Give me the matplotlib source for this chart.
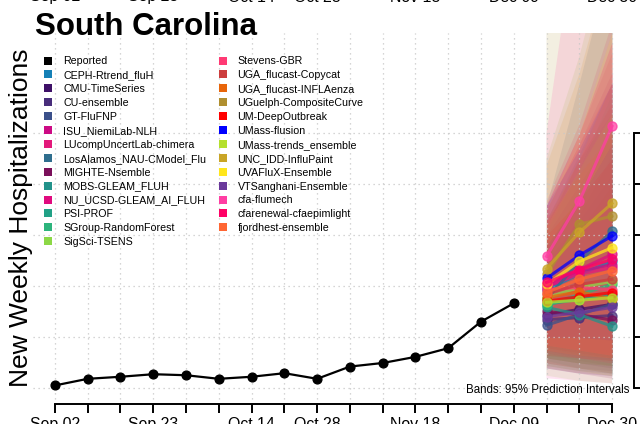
import matplotlib
matplotlib.use("Agg")
import matplotlib.pyplot as plt
import matplotlib.transforms as mtransforms
from matplotlib.patches import Rectangle

plt.rcParams['font.family'] = ['Liberation Sans', 'DejaVu Sans']

# reported weekly hospitalizations, Sep 02 .. Dec 09
weeks = ["Sep 02", "Sep 09", "Sep 16", "Sep 23", "Sep 30", "Oct 07", "Oct 14",
         "Oct 21", "Oct 28", "Nov 04", "Nov 11", "Nov 18", "Nov 25", "Dec 02",
         "Dec 09", "Dec 16", "Dec 23", "Dec 30"]
shown_labels = ["Sep 02", "Sep 23", "Oct 14", "Oct 28", "Nov 18", "Dec 09", "Dec 30"]
reported = [6, 19, 23, 28, 26, 19, 23, 30, 19, 43, 50, 62, 79, 131, 167]
y_ticks = [0, 100, 200, 300, 400, 500]

models = ["CEPH-Rtrend_fluH", "CMU-TimeSeries", "CU-ensemble", "GT-FluFNP",
          "ISU_NiemiLab-NLH", "LUcompUncertLab-chimera", "LosAlamos_NAU-CModel_Flu",
          "MIGHTE-Nsemble", "MOBS-GLEAM_FLUH", "NU_UCSD-GLEAM_AI_FLUH", "PSI-PROF",
          "SGroup-RandomForest", "SigSci-TSENS", "Stevens-GBR", "UGA_flucast-Copycat",
          "UGA_flucast-INFLAenza", "UGuelph-CompositeCurve", "UM-DeepOutbreak",
          "UMass-flusion", "UMass-trends_ensemble", "UNC_IDD-InfluPaint",
          "UVAFluX-Ensemble", "VTSanghani-Ensemble", "cfa-flumech",
          "cfarenewal-cfaepimlight", "fjordhest-ensemble"]
colors = ["#1580b6", "#3e1067", "#482d7b", "#3b508a", "#cc0a84", "#e3197b",
          "#2f6e8e", "#7a0f5a", "#22928a", "#e00a7e", "#21a186", "#2db47c",
          "#8cd846", "#ff3a74", "#cc3d3d", "#e8650a", "#b08f2f", "#ff0000",
          "#0000ff", "#b4e02d", "#c9a526", "#ffe61c", "#6a399b", "#ff3ea3",
          "#ff0066", "#ff6633"]

# forecast weeks: Dec 16, Dec 23, Dec 30
median_dec16 = [194, 145, 135, 124, 198, 200, 175, 151, 159, 204, 165, 163, 178,
                194, 186, 178, 224, 171, 216, 169, 235, 204, 141, 259, 208, 188]
median_dec23 = [224, 155, 139, 145, 229, 224, 249, 145, 145, 233, 175, 184, 198,
                198, 204, 190, 322, 180, 261, 173, 306, 249, 149, 367, 233, 214]
median_dec30 = [249, 165, 143, 165, 243, 237, 308, 134, 122, 263, 184, 204, 210,
                194, 214, 175, 338, 188, 299, 178, 363, 276, 159, 514, 253, 231]

lower_dec16 = [80, 60, 50, 45, 90, 70, 60, 40, 55, 75, 65, 60, 25,
               70, 80, 50, 40, 65, 100, 45, 60, 85, 40, 20, 85, 75]
lower_dec23 = [65, 50, 40, 35, 80, 55, 50, 30, 40, 60, 55, 50, 15,
               60, 70, 40, 30, 60, 100, 35, 50, 75, 30, 15, 75, 65]
lower_dec30 = [55, 40, 35, 30, 70, 45, 45, 20, 30, 50, 45, 45, 10,
               50, 60, 30, 25, 55, 95, 25, 45, 65, 25, 10, 65, 60]

upper_dec16 = [330, 250, 240, 230, 350, 360, 360, 300, 330, 370, 280, 310, 450,
               350, 320, 330, 800, 300, 360, 320, 440, 350, 280, 500, 360, 330]
upper_dec23 = [460, 330, 310, 340, 480, 500, 600, 400, 450, 520, 380, 430, 650,
               480, 450, 420, 900, 370, 470, 430, 620, 500, 370, 950, 500, 450]
upper_dec30 = [600, 420, 400, 460, 620, 660, 850, 500, 540, 720, 500, 580, 900,
               600, 560, 500, 1000, 450, 600, 540, 850, 700, 480, 1300, 680, 600]

W, H = 640, 424
fig = plt.figure(figsize=(W / 100, H / 100), dpi=100)
ax = fig.add_axes([33 / W, 20 / H, 601 / W, 371 / H])

x_rep = list(range(len(reported)))
x_fc = [len(reported), len(reported) + 1, len(reported) + 2]

# prediction bands
for i, c in enumerate(colors):
    lo = [lower_dec16[i], lower_dec23[i], lower_dec30[i]]
    hi = [upper_dec16[i], upper_dec23[i], upper_dec30[i]]
    ax.fill_between(x_fc, lo, hi, color=c, alpha=0.14, lw=0, zorder=1)

# grid
for k in range(len(weeks)):
    ax.axvline(k, color="#c8c8c8", lw=0.9, ls=(0, (1, 3)), zorder=2)
for v in y_ticks:
    ax.axhline(v, color="#c8c8c8", lw=0.9, ls=(0, (1, 3)), zorder=2)

# median forecasts
for i, c in enumerate(colors):
    med = [median_dec16[i], median_dec23[i], median_dec30[i]]
    ax.plot(x_fc, med, color=c, lw=2.2, alpha=0.75, marker="o", ms=6.5,
            mec=c, zorder=3)

ax.plot(x_rep, reported, color="black", lw=1.6, marker="o", ms=6.3, zorder=4)

ax.set_xlim(-0.67, 17.67)
ax.set_ylim(-30.4, 697)

for s in ["top", "left"]:
    ax.spines[s].set_visible(False)
ax.spines["bottom"].set_bounds(0, len(weeks) - 1)
ax.spines["right"].set_bounds(0, 500)
ax.spines["bottom"].set_linewidth(1.4)
ax.spines["right"].set_linewidth(1.4)

ax.set_xticks(range(len(weeks)))
ax.set_xticklabels([w if w in shown_labels else "" for w in weeks], fontsize=11.4)
ax.tick_params(axis="x", length=6.5, width=1.4, pad=3)
ax.yaxis.tick_right()
ax.set_yticks(y_ticks)
ax.set_yticklabels([])
ax.tick_params(axis="y", length=6.5, width=1.4)

# labels of the panel above, cut by the edge
blend = mtransforms.blended_transform_factory(ax.transData, fig.transFigure)
for k, w in enumerate(weeks):
    if w in shown_labels:
        fig.text(k, 1 - 1.5 / H, w, transform=blend, ha="center", va="baseline",
                 fontsize=11.4)

fig.text(35 / W, 1 - 35 / H, "South Carolina", fontsize=22.5, fontweight="bold",
         ha="left", va="baseline")
fig.text(21 / W, 1 - 218 / H, "New Weekly Hospitalizations", rotation=90,
         fontsize=19, ha="center", va="center")
fig.text(629 / W, 1 - 393 / H, "Bands: 95% Prediction Intervals", fontsize=8.3,
         ha="right", va="baseline")

# legend, two columns, filled squares
entries = ["Reported"] + models
entry_colors = ["black"] + colors
for j, (name, c) in enumerate(zip(entries, entry_colors)):
    col, row = divmod(j, 14)
    x0 = 44 + 174.5 * col
    yc = 60.5 + 13.9 * row
    fig.add_artist(Rectangle((x0 / W, 1 - (yc + 4) / H), 8 / W, 8 / H,
                             color=c, transform=fig.transFigure, lw=0))
    fig.text((x0 + 19) / W, 1 - yc / H, name, fontsize=7.7, ha="left",
             va="center_baseline")

fig.savefig("out.png", dpi=100)
